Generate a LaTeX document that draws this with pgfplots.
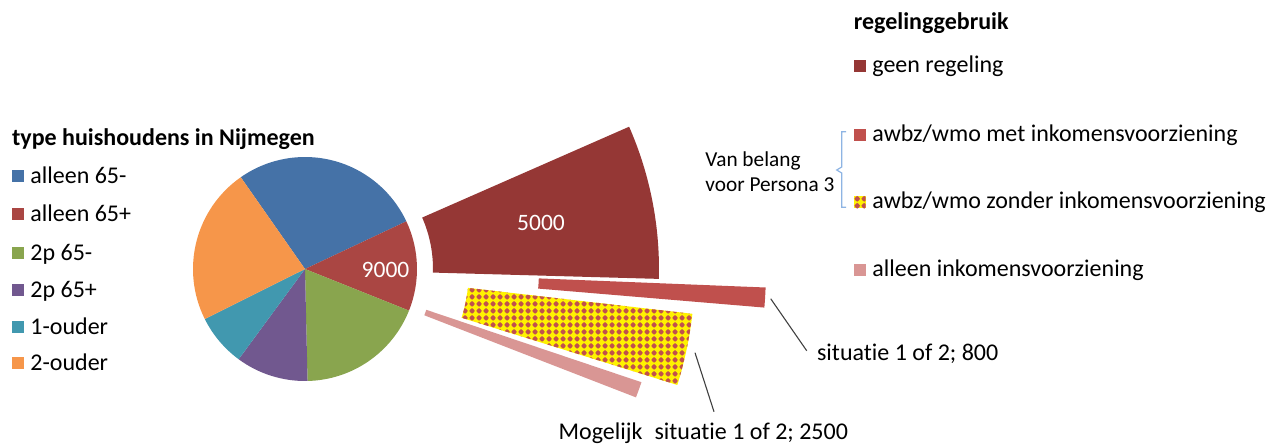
\documentclass[border=0pt]{standalone}
\usepackage{pgfplots}
\pgfplotsset{compat=1.18}
\usepackage{fontspec}
\setmainfont{Carlito}[Ligatures=NoCommon]
\usetikzlibrary{patterns}

\definecolor{cA}{HTML}{4572A7}
\definecolor{cB}{HTML}{AA4643}
\definecolor{cC}{HTML}{89A54E}
\definecolor{cD}{HTML}{71588F}
\definecolor{cE}{HTML}{4198AF}
\definecolor{cF}{HTML}{F6964A}
\definecolor{dGeen}{HTML}{953735}
\definecolor{dMet}{HTML}{C0504D}
\definecolor{dAlleen}{HTML}{D99694}
\definecolor{braceblue}{HTML}{8EB4E3}
\definecolor{leader}{HTML}{404040}

\pgfdeclarepatternformonly{diadots}{\pgfqpoint{0pt}{0pt}}{\pgfqpoint{3.5pt}{3.5pt}}{\pgfqpoint{3.5pt}{3.5pt}}{%
  \pgfpathmoveto{\pgfqpoint{0.2pt}{1.75pt}}%
  \pgfpathlineto{\pgfqpoint{0.95pt}{2.75pt}}%
  \pgfpathlineto{\pgfqpoint{1.75pt}{3.3pt}}%
  \pgfpathlineto{\pgfqpoint{2.55pt}{2.75pt}}%
  \pgfpathlineto{\pgfqpoint{3.3pt}{1.75pt}}%
  \pgfpathlineto{\pgfqpoint{2.55pt}{0.75pt}}%
  \pgfpathlineto{\pgfqpoint{1.75pt}{0.2pt}}%
  \pgfpathlineto{\pgfqpoint{0.95pt}{0.75pt}}%
  \pgfpathclose
  \pgfusepath{fill}}

% pie data (households)
\def\vA{19100}\def\vB{9000}\def\vC{12800}\def\vD{7200}\def\vE{5200}\def\vF{15600}
\edef\tot{\fpeval{\vA+\vB+\vC+\vD+\vE+\vF}}
\edef\aA{125}
\edef\aB{\fpeval{round(\aA-\vA/\tot*360,3)}}
\edef\aC{\fpeval{round(\aB-\vB/\tot*360,3)}}
\edef\aD{\fpeval{round(\aC-\vC/\tot*360,3)}}
\edef\aE{\fpeval{round(\aD-\vD/\tot*360,3)}}
\edef\aF{\fpeval{round(\aE-\vE/\tot*360,3)}}
\edef\aG{\fpeval{round(\aF-\vF/\tot*360,3)}}

\def\cx{305}\def\cy{269}\def\R{112}
\newcommand{\pieslice}[4]{%
  \fill[#1] (axis cs:\cx,\cy) -- (axis cs:{\cx+#4*cos(#2)},{\cy-#4*sin(#2)})
    arc[start angle=#2, end angle=#3, radius={#4*0.5pt}] -- cycle;}
\newcommand{\ringslice}[5]{%
  \fill[#1] (axis cs:{\cx+#4*cos(#2)},{\cy-#4*sin(#2)}) -- (axis cs:{\cx+#5*cos(#2)},{\cy-#5*sin(#2)})
    arc[start angle=#2, end angle=#3, radius={#5*0.5pt}]
    -- (axis cs:{\cx+#4*cos(#3)},{\cy-#4*sin(#3)})
    arc[start angle=#3, end angle=#2, radius={#4*0.5pt}] -- cycle;}
\newcommand{\lsq}[3]{\fill[#1] (axis cs:#2,{#3-6}) rectangle (axis cs:{#2+12},{#3+6});}

\begin{document}
\begin{tikzpicture}[every node/.style={inner sep=0pt, font=\fontsize{12pt}{14pt}\selectfont}]
\begin{axis}[scale only axis, width=643.5pt, height=223pt,
  xmin=0, xmax=1287, ymin=0, ymax=446, y dir=reverse,
  hide axis, clip=false]

% main pie
\pieslice{cA}{\aA}{\aB}{\R}
\pieslice{cB}{\aB}{\aC}{\R}
\pieslice{cC}{\aC}{\aD}{\R}
\pieslice{cD}{\aD}{\aE}{\R}
\pieslice{cE}{\aE}{\aF}{\R}
\pieslice{cF}{\aF}{\aG}{\R}
\node[text=white, font=\fontsize{11.75pt}{14pt}\selectfont] at (axis cs:385.5,269.5) {9000};

% split of 'alleen 65+' (5000 / 800 / 2500 / 700)
\ringslice{dGeen}{23.7}{-1.6}{128}{354}
\ringslice{dMet}{-2.3}{-4.8}{234}{461}
\ringslice{yellow, postaction={pattern=diadots, pattern color=dMet}}{-6.6}{-17.3}{164}{390}
\ringslice{dAlleen}{-18.6}{-21.2}{128}{355}
\node[text=white, font=\fontsize{11.75pt}{14pt}\selectfont] at (axis cs:541,222.5) {5000};

% leader lines
\addplot[leader, line width=0.55pt] coordinates {(770.7,298.7) (806.7,350.7)};
\addplot[leader, line width=0.55pt] coordinates {(695,352.7) (714,411.7)};
\node[anchor=base west] at (axis cs:816.7,360) {situatie 1 of 2; 800};
\node[anchor=base west] at (axis cs:558.3,439.3) {Mogelijk\hspace{6pt}situatie 1 of 2; 2500};

% left legend
\node[anchor=base west, font=\fontsize{12pt}{14pt}\selectfont\bfseries] at (axis cs:11.7,145) {type huishoudens in Nijmegen};
\lsq{cA}{11.7}{176}   \node[anchor=base west] at (axis cs:30,183.5) {alleen 65-};
\lsq{cB}{11.7}{214.3} \node[anchor=base west] at (axis cs:30,221.8) {alleen 65+};
\lsq{cC}{11.7}{252.5} \node[anchor=base west] at (axis cs:30,260) {2p 65-};
\lsq{cD}{11.7}{290}   \node[anchor=base west] at (axis cs:30,297.5) {2p 65+};
\lsq{cE}{11.7}{326.7} \node[anchor=base west] at (axis cs:30,334.2) {1-ouder};
\lsq{cF}{11.7}{362.7} \node[anchor=base west] at (axis cs:30,370.2) {2-ouder};

% right legend
\node[anchor=base west, font=\fontsize{12pt}{14pt}\selectfont\bfseries] at (axis cs:853.5,29.3) {regelinggebruik};
\lsq{dGeen}{853.5}{65.5}  \node[anchor=base west] at (axis cs:872,72) {geen regeling};
\lsq{dMet}{853.5}{134.5}  \node[anchor=base west] at (axis cs:872,141) {awbz/wmo met inkomensvoorziening};
\lsq{yellow, postaction={pattern=diadots, pattern color=dMet}}{853.5}{202.3} \node[anchor=base west] at (axis cs:872,208.8) {awbz/wmo zonder inkomensvoorziening};
\lsq{dAlleen}{853.5}{270} \node[anchor=base west] at (axis cs:872,276.5) {alleen inkomensvoorziening};

% bracket and note
\draw[braceblue, line width=0.6pt] (axis cs:846,131.7) -- (axis cs:841.7,131.7) -- (axis cs:841.7,167) -- (axis cs:836.7,170) -- (axis cs:841.7,173) -- (axis cs:841.7,207.3) -- (axis cs:846,207.3);
\node[anchor=base west, font=\fontsize{10.65pt}{12pt}\selectfont] at (axis cs:705,166.5) {Van belang};
\node[anchor=base west, font=\fontsize{10.65pt}{12pt}\selectfont] at (axis cs:705,191.7) {voor Persona 3};
\end{axis}
\pgfresetboundingbox
\useasboundingbox (current axis.south west) rectangle (current axis.north east);
\end{tikzpicture}
\end{document}
